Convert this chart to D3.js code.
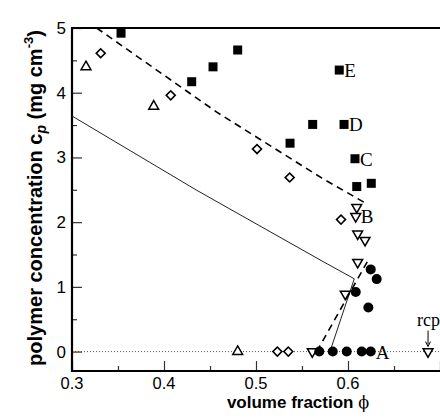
<!DOCTYPE html>
<html>
<head>
<meta charset="utf-8">
<script src="https://cdn.jsdelivr.net/npm/d3@7"></script>
<style>
  body { margin: 0; background: #fff; }
</style>
</head>
<body>
<script>
// volume fraction phi, polymer concentration cp
const filledSquares = [
  [0.3533, 4.92], [0.4301, 4.17], [0.4533, 4.40], [0.4801, 4.66],
  [0.5370, 3.22], [0.5616, 3.51], [0.5957, 3.51], [0.5905, 4.35],
  [0.6076, 2.98], [0.6095, 2.55], [0.6253, 2.60]
];
const openDiamonds = [
  [0.3312, 4.61], [0.4073, 3.96], [0.5011, 3.13], [0.5366, 2.69],
  [0.5924, 2.04], [0.5232, 0], [0.5351, 0]
];
const openTrianglesUp = [[0.3152, 4.40], [0.3888, 3.79], [0.4801, 0]];
const openTrianglesDown = [
  [0.6095, 2.23], [0.6084, 2.09], [0.6105, 1.82], [0.6185, 1.72],
  [0.6105, 1.38], [0.5970, 0.89], [0.5612, 0], [0.6870, 0]
];
const filledCircles = [
  [0.5688, 0], [0.5834, 0], [0.5986, 0], [0.6149, 0], [0.6247, 0],
  [0.6247, 1.27], [0.6312, 1.12], [0.6084, 0.92], [0.6221, 0.68]
];
const dashedUpper = [[0.3268, 5.0], [0.4573, 3.70], [0.5717, 2.68], [0.6207, 2.28]];
const dashedLower = [[0.566, 0], [0.623, 1.44]];
const solidLine = [[0.3, 3.64], [0.4359, 2.49], [0.5717, 1.40], [0.6068, 1.125], [0.5804, 0]];
const pointLabels = [
  {t: "E", x: 0.5905, y: 4.35}, {t: "D", x: 0.5957, y: 3.51},
  {t: "C", x: 0.6076, y: 2.98}, {t: "B", x: 0.6084, y: 2.09},
  {t: "A", x: 0.6247, y: 0}
];
const rcp = 0.6870;
const xTicks = [0.3, 0.4, 0.5, 0.6];
const yTicks = [0, 1, 2, 3, 4, 5];

const width = 440, height = 420;
const margin = {top: 28, right: 0, bottom: 49, left: 72};

const svg = d3.select("body").append("svg")
  .attr("width", width)
  .attr("height", height);

const x = d3.scaleLinear().domain([0.3, 0.7]).range([margin.left, width - margin.right]);
const y = d3.scaleLinear().domain([-0.3, 5]).range([height - margin.bottom, margin.top]);

// zero line
svg.append("line")
  .attr("x1", x(0.3)).attr("x2", x(0.7))
  .attr("y1", y(0)).attr("y2", y(0))
  .attr("stroke", "#555").attr("stroke-width", 1)
  .attr("stroke-dasharray", "1,2");

// axes with inward ticks
const xMinor = d3.range(0.35, 0.7, 0.1);
const yMinor = d3.range(0.5, 5, 1);

svg.append("g")
  .attr("transform", `translate(0,${y(-0.3)})`)
  .call(d3.axisBottom(x).tickValues(d3.range(0.3, 0.75, 0.1)).tickSize(-10).tickFormat(""))
  .call(g => g.select(".domain").remove());
svg.append("g")
  .attr("transform", `translate(0,${y(-0.3)})`)
  .call(d3.axisBottom(x).tickValues(xMinor).tickSize(-5).tickFormat(""))
  .call(g => g.select(".domain").remove());
svg.selectAll(".xlab").data(xTicks).enter().append("text")
  .attr("x", d => x(d)).attr("y", 388.5)
  .attr("text-anchor", "middle")
  .attr("font-family", "Liberation Sans, Arial, sans-serif")
  .attr("font-size", "16.5px")
  .text(d => d.toFixed(1));

svg.append("g")
  .attr("transform", `translate(${x(0.3)},0)`)
  .call(d3.axisLeft(y).tickValues(yTicks).tickSize(-10).tickPadding(6).tickFormat(d3.format("d")))
  .call(g => g.select(".domain").remove())
  .call(g => g.selectAll("text").attr("font-family", "Liberation Sans, Arial, sans-serif").attr("font-size", "17px"));
svg.append("g")
  .attr("transform", `translate(${x(0.3)},0)`)
  .call(d3.axisLeft(y).tickValues(yMinor).tickSize(-5).tickFormat(""))
  .call(g => g.select(".domain").remove());

svg.selectAll(".tick line").attr("stroke", "#333").attr("stroke-width", 1.2);

// frame
svg.append("path")
  .attr("d", `M${width + 2},${y(5)} H${x(0.3)} V${y(-0.3)} H${width + 2}`)
  .attr("fill", "none").attr("stroke", "#000").attr("stroke-width", 2.2);

// lines
const line = d3.line().x(d => x(d[0])).y(d => y(d[1]));
svg.append("path").datum(dashedUpper).attr("d", line)
  .attr("fill", "none").attr("stroke", "#000").attr("stroke-width", 1.6).attr("stroke-dasharray", "7,5");
svg.append("path").datum(dashedLower).attr("d", line)
  .attr("fill", "none").attr("stroke", "#000").attr("stroke-width", 1.6).attr("stroke-dasharray", "7,5");
svg.append("path").datum(solidLine).attr("d", line)
  .attr("fill", "none").attr("stroke", "#222").attr("stroke-width", 1);

// markers
svg.selectAll(".sq").data(filledSquares).enter().append("rect")
  .attr("x", d => x(d[0]) - 4.5).attr("y", d => y(d[1]) - 4.5)
  .attr("width", 9).attr("height", 9).attr("fill", "#000");

svg.selectAll(".dia").data(openDiamonds).enter().append("path")
  .attr("d", d3.symbol(d3.symbolSquare, 40))
  .attr("transform", d => `translate(${x(d[0])},${y(d[1])}) rotate(45)`)
  .attr("fill", "#fff").attr("stroke", "#000").attr("stroke-width", 1.6);

svg.selectAll(".tu").data(openTrianglesUp).enter().append("path")
  .attr("d", d3.symbol(d3.symbolTriangle, 42))
  .attr("transform", d => `translate(${x(d[0])},${y(d[1])})`)
  .attr("fill", "#fff").attr("stroke", "#000").attr("stroke-width", 1.5);

svg.selectAll(".td").data(openTrianglesDown).enter().append("path")
  .attr("d", d3.symbol(d3.symbolTriangle, 42))
  .attr("transform", d => `translate(${x(d[0])},${y(d[1])}) rotate(180)`)
  .attr("fill", "#fff").attr("stroke", "#000").attr("stroke-width", 1.5);

svg.selectAll(".ci").data(filledCircles).enter().append("circle")
  .attr("cx", d => x(d[0])).attr("cy", d => y(d[1])).attr("r", 5)
  .attr("fill", "#000");

// point labels
svg.selectAll(".pl").data(pointLabels).enter().append("text")
  .attr("x", d => x(d.x) + 5).attr("y", d => y(d.y) + 7)
  .attr("font-family", "Liberation Serif, Times New Roman, serif")
  .attr("font-size", "19px")
  .text(d => d.t);

// rcp marker
svg.append("text")
  .attr("x", x(rcp) - 11).attr("y", y(0) - 26)
  .attr("font-family", "Liberation Serif, Times New Roman, serif")
  .attr("font-size", "18px")
  .text("rcp");
svg.append("line")
  .attr("x1", x(rcp)).attr("x2", x(rcp))
  .attr("y1", y(0) - 21).attr("y2", y(0) - 7)
  .attr("stroke", "#000").attr("stroke-width", 1);
svg.append("path")
  .attr("d", `M${x(rcp) - 2.5},${y(0) - 10} L${x(rcp)},${y(0) - 5} L${x(rcp) + 2.5},${y(0) - 10}`)
  .attr("fill", "none").attr("stroke", "#000").attr("stroke-width", 1);

// axis titles
const xt = svg.append("text")
  .attr("x", 298).attr("y", 408)
  .attr("text-anchor", "middle")
  .attr("font-family", "Liberation Sans, Arial, sans-serif")
  .attr("font-size", "17px").attr("font-weight", "bold");
xt.append("tspan").text("volume fraction ");
xt.append("tspan").attr("font-family", "DejaVu Serif, Liberation Serif, serif")
  .attr("font-weight", "normal").attr("font-size", "16px").text("ϕ");

const yt = svg.append("text")
  .attr("transform", "translate(42,198) rotate(-90)")
  .attr("text-anchor", "middle")
  .attr("font-family", "Liberation Sans, Arial, sans-serif")
  .attr("font-size", "20px").attr("font-weight", "bold");
yt.append("tspan").text("polymer concentration c");
yt.append("tspan").attr("font-style", "italic").attr("font-size", "14px").attr("dy", 4).text("p");
yt.append("tspan").attr("dy", -4).text(" (mg cm");
yt.append("tspan").attr("font-size", "13px").attr("dy", -9).text("-3");
yt.append("tspan").attr("dy", 9).text(")");
</script>
</body>
</html>
